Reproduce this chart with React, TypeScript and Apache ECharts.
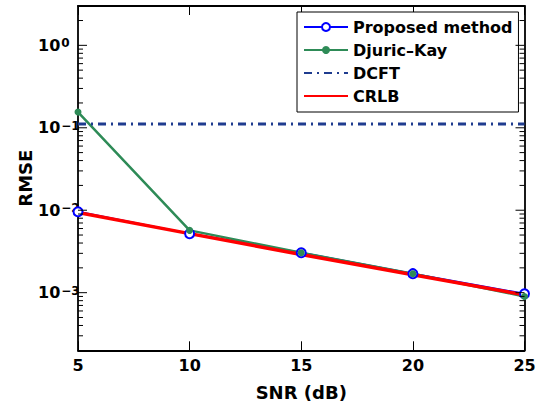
import React, { useEffect, useRef } from "react";
import * as echarts from "echarts";

const snr = [5, 10, 15, 20, 25];
const proposed = [0.0096, 0.0052, 0.00305, 0.0017, 0.00097];
const djuricKay = [0.155, 0.0057, 0.00305, 0.0017, 0.0009];
const dcft = [0.111, 0.111, 0.111, 0.111, 0.111];
const crlb = [0.0094, 0.0052, 0.0029, 0.00165, 0.00094];
const yMinVal = 2e-4;
const yMaxVal = 3;
const majorDecades = [-3, -2, -1, 0];

const FONT = "DejaVu Sans";

export default function App() {
  const ref = useRef<HTMLDivElement>(null);
  useEffect(() => {
    if (!ref.current) return;
    const chart = echarts.init(ref.current, undefined, { renderer: "svg" });
    const lmin = Math.log10(yMinVal);
    const lmax = Math.log10(yMaxVal);
    const minor: number[] = [];
    for (let d = -4; d <= 0; d++) {
      for (let k = 2; k <= 9; k++) {
        const v = Math.log10(k) + d;
        if (v > lmin && v < lmax) minor.push(v);
      }
    }
    const toPts = (arr: number[]) => arr.map((v, i) => [snr[i], Math.log10(v)]);
    const axisLine = { show: true, onZero: false, lineStyle: { color: "#000", width: 1.8 } };
    const option: any = {
      animation: false,
      backgroundColor: "#fff",
      grid: { left: 78, right: 18.5, top: 6, bottom: 57.7 },
      xAxis: [
        {
          type: "value",
          min: 5,
          max: 25,
          interval: 5,
          position: "bottom",
          axisLine,
          axisTick: { inside: true, length: 9, lineStyle: { color: "#000", width: 1 } },
          splitLine: { show: false },
          axisLabel: {
            margin: 7,
            color: "#000",
            fontSize: 16,
            fontWeight: "bold",
            fontFamily: FONT,
          },
          name: "SNR (dB)",
          nameLocation: "middle",
          nameGap: 33,
          nameMoveOverlap: false,
          nameTextStyle: { color: "#000", fontSize: 18, fontWeight: "bold", fontFamily: FONT },
        },
        {
          type: "value",
          min: 5,
          max: 25,
          interval: 5,
          position: "top",
          axisLine,
          axisTick: { inside: true, length: 9, lineStyle: { color: "#000", width: 1 } },
          axisLabel: { show: false },
          splitLine: { show: false },
        },
      ],
      yAxis: [
        {
          type: "value",
          min: lmin,
          max: lmax,
          position: "left",
          axisLine,
          splitLine: { show: false },
          axisTick: { show: false },
          axisLabel: {
            customValues: majorDecades,
            align: "left",
            margin: 40,
            formatter: (v: number) => {
              const n = Math.round(v);
              const sup = n === 0 ? "0" : "\u2212" + Math.abs(n);
              return `{b|10}{e|${sup}}`;
            },
            rich: {
              b: {
                fontSize: 16,
                fontWeight: "bold",
                fontFamily: FONT,
                color: "#000",
                lineHeight: 20,
                padding: [8, 0, 8, 0],
              },
              e: {
                fontSize: 12,
                fontWeight: "bold",
                fontFamily: FONT,
                color: "#000",
                lineHeight: 13,
                verticalAlign: "top",
                padding: [2, 0, 0, 1],
              },
            },
          },
          name: "RMSE",
          nameLocation: "middle",
          nameGap: 44,
          nameMoveOverlap: false,
          nameTextStyle: { color: "#000", fontSize: 18, fontWeight: "bold", fontFamily: FONT },
        },
        {
          type: "value",
          min: lmin,
          max: lmax,
          position: "right",
          axisLine,
          splitLine: { show: false },
          axisTick: { show: false },
          axisLabel: { show: false },
        },
      ],
      legend: {
        orient: "vertical",
        left: 297,
        top: 12,
        padding: [6, 6, 7, 6],
        itemGap: 5,
        itemWidth: 44,
        itemHeight: 10,
        borderColor: "#000",
        borderWidth: 1,
        borderRadius: 0,
        backgroundColor: "#fff",
        textStyle: {
          color: "#000",
          fontSize: 16,
          fontWeight: "bold",
          fontFamily: FONT,
          lineHeight: 18,
        },
        data: [
          { name: "Proposed method" },
          { name: "Djuric\u2013Kay" },
          { name: "DCFT", itemStyle: { opacity: 0 } },
          { name: "CRLB", itemStyle: { opacity: 0 } },
        ],
      },
      series: [
        {
          name: "Proposed method",
          type: "line",
          data: toPts(proposed),
          symbol: "circle",
          symbolSize: 9,
          itemStyle: { color: "#fff", borderColor: "#0000ff", borderWidth: 2 },
          lineStyle: { color: "#0000ff", width: 2 },
          color: "#0000ff",
        },
        {
          name: "Djuric\u2013Kay",
          type: "line",
          data: toPts(djuricKay),
          symbol: "circle",
          symbolSize: 7,
          itemStyle: { color: "#2e8b57", borderColor: "#2e8b57", borderWidth: 0 },
          lineStyle: { color: "#2e8b57", width: 2.5 },
          color: "#2e8b57",
        },
        {
          name: "DCFT",
          type: "line",
          data: toPts(dcft),
          symbol: "none",
          lineStyle: { color: "#1f3c8f", width: 3, type: [8, 5, 2, 5] },
          color: "#1f3c8f",
        },
        {
          name: "CRLB",
          type: "line",
          data: toPts(crlb),
          symbol: "none",
          lineStyle: { color: "#ff0000", width: 3.5 },
          color: "#ff0000",
        },
      ],
    };
    chart.setOption(option);

    // y-axis tick marks (major and minor, inside, both sides), placed via the axis scale
    const xl = chart.convertToPixel({ xAxisIndex: 0 }, 5) as number;
    const xr = chart.convertToPixel({ xAxisIndex: 0 }, 25) as number;
    const ticks: any[] = [];
    const addTick = (v: number, len: number) => {
      const y = chart.convertToPixel({ yAxisIndex: 0 }, v) as number;
      const style = { stroke: "#000", lineWidth: 1 };
      ticks.push({ type: "line", silent: true, z: 10, shape: { x1: xl, y1: y, x2: xl + len, y2: y }, style });
      ticks.push({ type: "line", silent: true, z: 10, shape: { x1: xr - len, y1: y, x2: xr, y2: y }, style });
    };
    majorDecades.forEach((v) => addTick(v, 9));
    minor.forEach((v) => addTick(v, 5));
    chart.setOption({ graphic: ticks });

    return () => chart.dispose();
  }, []);
  return (
    <div
      ref={ref}
      style={{ position: "fixed", left: 0, top: 0, width: 543, height: 408 }}
    />
  );
}
